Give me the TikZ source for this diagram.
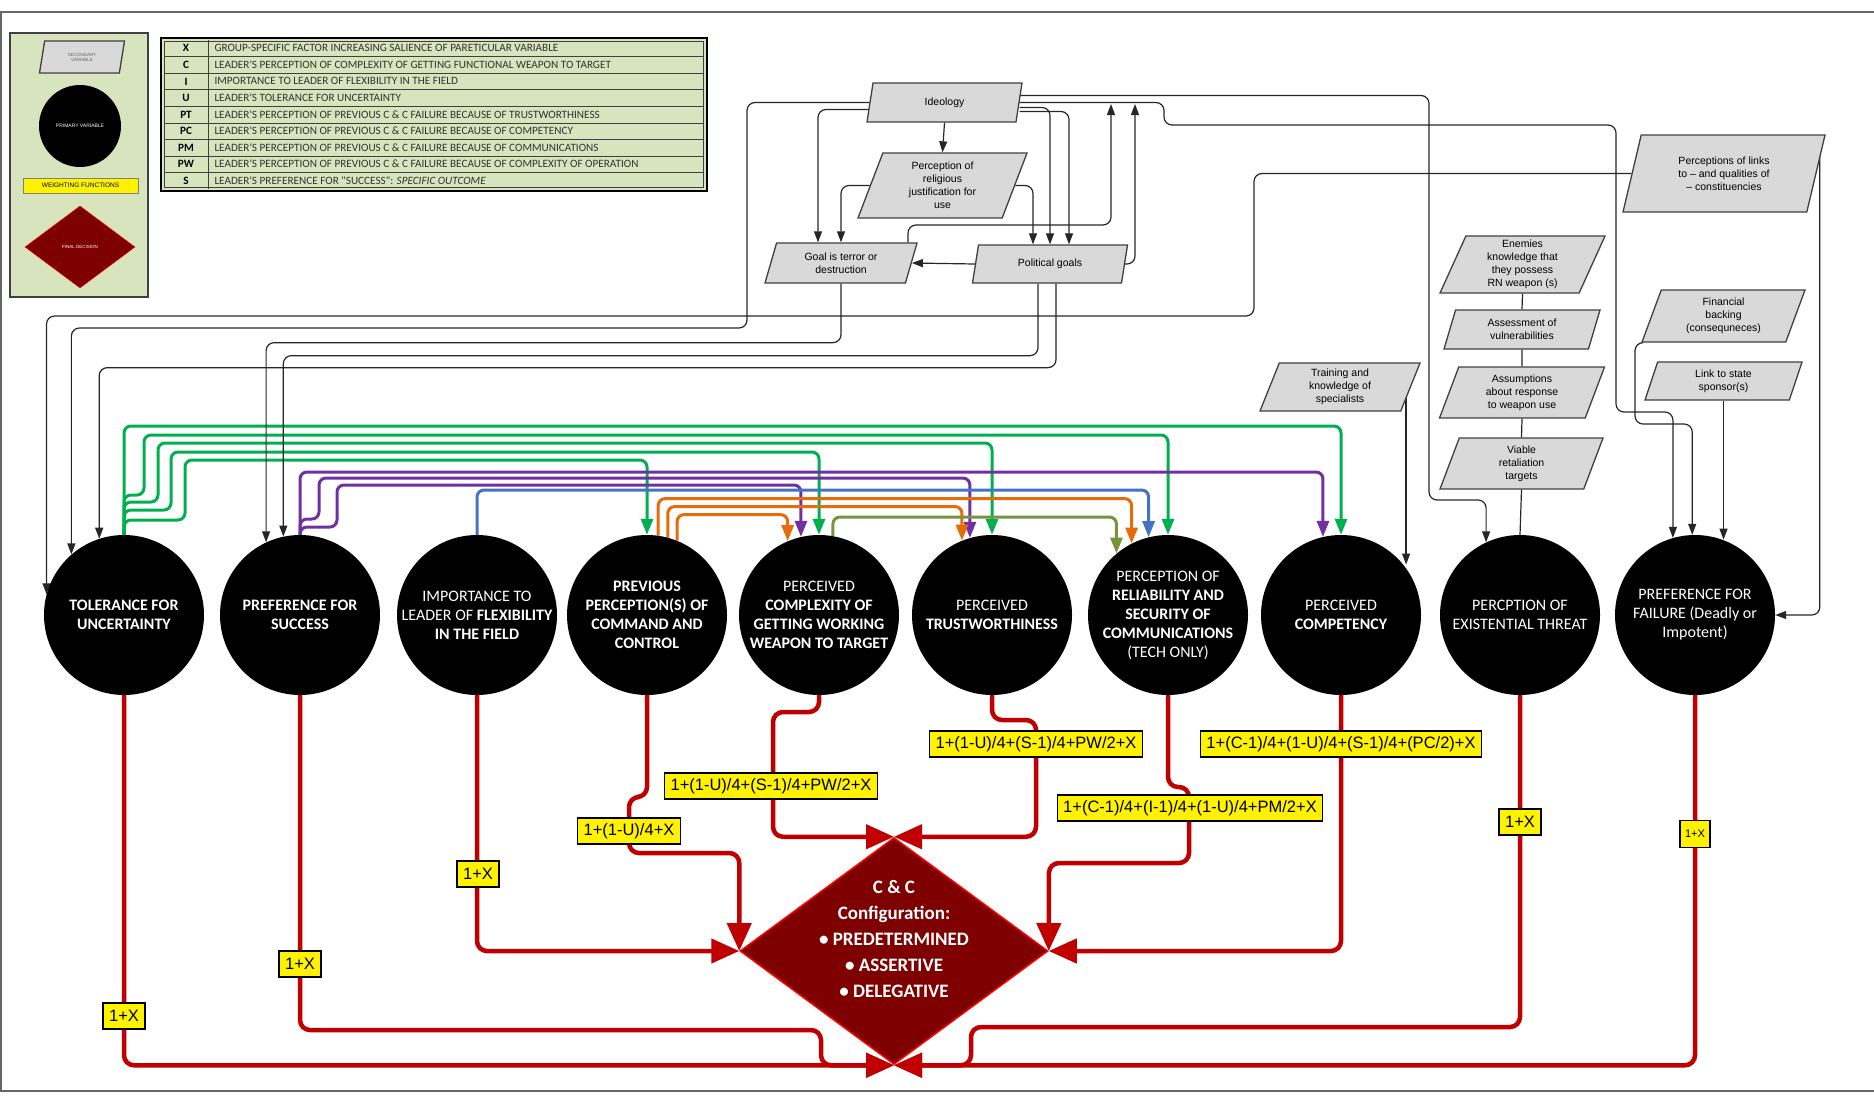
\documentclass[tikz,border=0pt]{standalone}
\usepackage{fontspec}
\setmainfont{Liberation Sans}
\newfontfamily\calfont{Carlito}
\usetikzlibrary{shapes.geometric,arrows.meta,backgrounds}
\definecolor{legendgreen}{HTML}{D7E4BD}
\definecolor{secgray}{HTML}{D9D9D9}
\definecolor{linegray}{HTML}{404040}
\definecolor{redline}{HTML}{C00000}
\definecolor{darkred}{HTML}{7F0000}
\definecolor{xlgreen}{HTML}{00B050}
\definecolor{xlpurple}{HTML}{7030A0}
\definecolor{xlblue}{HTML}{4472C4}
\definecolor{xlorange}{HTML}{E46C0A}
\definecolor{xlolive}{HTML}{77933C}
\newcommand{\circfont}{\calfont\bfseries\fontsize{16}{19}\selectfont}
\newcommand{\secfont}{\fontsize{10.5}{13}\selectfont}
\newcommand{\wffont}{\fontsize{16.5}{18}\selectfont}
\newcommand{\tabfont}{\calfont\fontsize{11.2}{13}\selectfont}

\begin{document}
\begin{tikzpicture}[x=1pt,y=-1pt,
  sec/.style={trapezium, trapezium left angle=63, trapezium right angle=117, trapezium stretches body,
    draw=linegray, line width=1.3pt, fill=secgray, align=center, font=\secfont, inner sep=1pt},
  prim/.style={circle, fill=black, minimum size=160pt, inner sep=0pt},
  ptext/.style={text=white, align=center, font=\circfont},
  wf/.style={draw=black, line width=1.3pt, fill=yellow, font=\wffont, minimum height=26pt, inner xsep=6pt, inner ysep=0pt},
  blk/.style={draw=black!85, line width=1.2pt, rounded corners=8pt},
  blkarr/.style={blk, -{Triangle[length=11pt,width=8pt]}},
  redarr/.style={draw=redline, line width=4.5pt, rounded corners=10pt, -{Triangle[length=28pt,width=24pt]}},
  col/.style={line width=3pt, rounded corners=7pt, -{Triangle[length=16pt,width=12pt]}}]
\useasboundingbox (0,0) rectangle (1874,1095);
\draw[black!60, line width=1.5pt] (1874,12) -- (1,12) -- (1,1091) -- (1874,1091);

\draw[linegray, line width=2.5pt, fill=legendgreen] (10,33) rectangle (148,297);
\node[sec, minimum width=85pt, minimum height=32pt, font=\fontsize{4.5}{5}\selectfont, text=black!60] (legsec) at (82,57) {SECONDARY\\VARIABLE};
\node[circle, fill=black, minimum size=82pt, inner sep=0pt, text=white, font=\fontsize{5}{6}\selectfont] (legprim) at (80,126) {PRIMARY VARIABLE};
\node[draw=black!50, fill=yellow, font=\fontsize{6.5}{7}\selectfont, minimum width=115pt, minimum height=15pt, inner sep=0pt] (legwf) at (80.5,185.5) {WEIGHTING FUNCTIONS};
\node[diamond, fill=darkred, draw=red, minimum width=110pt, minimum height=82pt, inner sep=0pt, text=white, font=\fontsize{4.5}{5}\selectfont] (legdec) at (80,247) {FINAL DECISION};

\fill[legendgreen] (161,38) rectangle (707,191);
\foreach \i in {1,...,8}
  \draw[linegray] (164,{40+\i*16.56}) -- (704,{40+\i*16.56});
\draw[linegray] (208,40) -- (208,189);
\draw[black, line width=2.5pt] (161,38) rectangle (707,191);
\draw[linegray, line width=0.8pt] (164.5,41.5) rectangle (703.5,187.5);
\foreach [count=\i] \k/\t in {
  X/GROUP-SPECIFIC FACTOR INCREASING SALIENCE OF PARETICULAR VARIABLE,
  C/LEADER'S PERCEPTION OF COMPLEXITY OF GETTING FUNCTIONAL WEAPON TO TARGET,
  I/IMPORTANCE TO LEADER OF FLEXIBILITY IN THE FIELD,
  U/LEADER'S TOLERANCE FOR UNCERTAINTY,
  PT/LEADER'S PERCEPTION OF PREVIOUS C \& C FAILURE BECAUSE OF TRUSTWORTHINESS,
  PC/LEADER'S PERCEPTION OF PREVIOUS C \& C FAILURE BECAUSE OF COMPETENCY,
  PM/LEADER'S PERCEPTION OF PREVIOUS C \& C FAILURE BECAUSE OF COMMUNICATIONS,
  PW/LEADER'S PERCEPTION OF PREVIOUS C \& C FAILURE BECAUSE OF COMPLEXITY OF OPERATION,
  S/{LEADER'S PREFERENCE FOR "SUCCESS": \textit{SPECIFIC OUTCOME}}}
{
  \node[font=\tabfont\bfseries] (key\i) at (186,{40+(\i-0.5)*16.56}) {\k};
  \node[anchor=west, font=\tabfont, text=black!80] (row\i) at (211,{40+(\i-0.5)*16.56}) {\t};
}

\node[sec, minimum width=155pt, minimum height=39pt] (ideo) at (944.5,102.5) {Ideology};
\node[sec, minimum width=169pt, minimum height=65pt] (relig) at (942.5,185.5) {Perception of\\religious\\justification for\\use};
\node[sec, minimum width=152pt, minimum height=40pt] (goal) at (841,263) {Goal is terror or\\destruction};
\node[sec, minimum width=155pt, minimum height=38pt] (polit) at (1050,264) {Political goals};
\node[sec, minimum width=202pt, minimum height=77pt] (links) at (1724,173.5) {Perceptions of links\\to \textendash{} and qualities of\\\textendash{} constituencies};
\node[sec, minimum width=165pt, minimum height=57pt] (enemy) at (1522.5,264.5) {Enemies\\knowledge that\\they possess\\RN weapon (s)};
\node[sec, minimum width=156pt, minimum height=39pt] (assess) at (1522,329.5) {Assessment of\\vulnerabilities};
\node[sec, minimum width=165pt, minimum height=51pt] (assume) at (1522,392.5) {Assumptions\\about response\\to weapon use};
\node[sec, minimum width=163pt, minimum height=51pt] (viable) at (1521.5,463.5) {Viable\\retaliation\\targets};
\node[sec, minimum width=160pt, minimum height=48pt] (train) at (1340,387) {Training and\\knowledge of\\specialists};
\node[sec, minimum width=163pt, minimum height=52pt] (finance) at (1723.5,316) {Financial\\backing\\(consequneces)};
\node[sec, minimum width=157pt, minimum height=38pt] (sponsor) at (1723.5,381) {Link to state\\sponsor(s)};

\node[prim, label={[ptext]center:{TOLERANCE FOR\\UNCERTAINTY}}] (tol) at (124,615) {};
\node[prim, label={[ptext]center:{PREFERENCE FOR\\SUCCESS}}] (suc) at (300,615) {};
\node[prim, label={[ptext]center:{\textmd{IMPORTANCE TO}\\\textmd{LEADER OF} FLEXIBILITY\\IN THE FIELD}}] (imp) at (477,615) {};
\node[prim, label={[ptext]center:{PREVIOUS\\PERCEPTION(S) OF\\COMMAND AND\\CONTROL}}] (prev) at (647,615) {};
\node[prim, label={[ptext]center:{\textmd{PERCEIVED}\\COMPLEXITY OF\\GETTING WORKING\\WEAPON TO TARGET}}] (cplx) at (819,615) {};
\node[prim, label={[ptext]center:{\textmd{PERCEIVED}\\TRUSTWORTHINESS}}] (trust) at (992,615) {};
\node[prim, label={[ptext]center:{\textmd{PERCEPTION OF}\\RELIABILITY AND\\SECURITY OF\\COMMUNICATIONS\\\textmd{(TECH ONLY)}}}] (rel) at (1168,615) {};
\node[prim, label={[ptext]center:{\textmd{PERCEIVED}\\COMPETENCY}}] (comp) at (1341,615) {};
\node[prim, label={[ptext]center:{\textmd{PERCPTION OF}\\\textmd{EXISTENTIAL THREAT}}}] (thr) at (1520,615) {};
\node[prim, label={[ptext]center:{\textmd{PREFERENCE FOR}\\\textmd{FAILURE (Deadly or}\\\textmd{Impotent)}}}] (fail) at (1695,615) {};

\node[diamond, fill=darkred, draw=red, line width=1.5pt, minimum width=308pt, minimum height=227pt, inner sep=0pt] (dia) at (894,951) {};
\node[text=white, align=center, font=\calfont\bfseries\fontsize{19}{26}\selectfont] (diatext) at (894,939) {C \& C\\Configuration:\\\textbullet{} PREDETERMINED\\\textbullet{} ASSERTIVE\\\textbullet{} DELEGATIVE};

\coordinate (joinA) at (1111,104);
\coordinate (joinB) at (1135,104);
\coordinate (tr0) at ([xshift=-5pt,yshift=-10pt]train.east);

\begin{scope}[on background layer]
\draw[redarr] (tol.south) |- (dia.south);
\draw[redarr] (suc.south) |- (821,1030) |- (dia.south);
\draw[redarr] (imp.south) |- (dia.west);
\draw[redarr] (prev.south) -- (647,797) -| (629,853) -| (dia.west);
\draw[redarr] (cplx.south) |- (773,712) |- (dia.north);
\draw[redarr] (trust.south) |- (1036,720) |- (dia.north);
\draw[redarr] (rel.south) |- (1189,787) |- (1049,863) -- (dia.east);
\draw[redarr] (comp.south) |- (dia.east);
\draw[redarr] (thr.south) |- (971,1027) |- (dia.south);
\draw[redarr] (fail.south) |- (dia.south);

\draw[col, xlgreen] (tol.north) -- (124,426) -| (comp.north);
\draw[col, xlgreen] (tol.north) -- (124,495) -| (144,435) -| (rel.north);
\draw[col, xlgreen] (tol.north) -- (124,502) -| (158,443) -| (trust.north);
\draw[col, xlgreen] (tol.north) -- (124,510) -| (171,452) -| (cplx.north);
\draw[col, xlgreen] (tol.north) -- (124,520) -| (185,460) -| (prev.north);
\draw[col, xlpurple] (suc.north) -- (300,472) -| (comp.103);
\draw[col, xlpurple] (suc.north) -- (300,519) -| (319,478) -| (trust.106);
\draw[col, xlpurple] (suc.north) -- (300,527) -| (337,485) -| (cplx.103);
\draw[col, xlblue] (imp.north) -- (477,490) -| (rel.104);
\draw[col, xlorange] (prev.82) -- ++(0,-37) -| (rel.117.5);
\draw[col, xlorange] (prev.75.5) -- ++(0,-31) -| (trust.112);
\draw[col, xlorange] (prev.68.7) -- ++(0,-26) -| (cplx.113.6);
\draw[col, xlolive] (cplx.80.6) -- ++(0,-19) -| (rel.130.5);

\draw[blkarr] (ideo.south) -- (relig.north);
\draw[blkarr] ([yshift=-7pt]ideo.west) -| ([xshift=-23pt]goal.north);
\draw[blkarr] (relig.west) -| (goal.north);
\draw[blkarr] (relig.east) -| ([xshift=-17pt]polit.north);
\draw[blkarr] ([yshift=-5pt]ideo.east) -| (polit.north);
\draw[blkarr] ([yshift=-9pt]ideo.east) -| ([xshift=19pt]polit.north);
\draw[blkarr] (polit.west) -- (goal.east);
\draw[blkarr] ([xshift=67pt]goal.north) |- (1111,225) -- (joinA);
\draw[blkarr] (polit.east) -| (joinB);
\draw[blkarr] (ideo.west) -| (747,328) -| (tol.131);
\draw[blkarr] (links.west) -| (1254,316) -| (tol.165);
\draw[blkarr] (goal.south) -- ++(0,59) -| (suc.115);
\draw[blkarr] ([xshift=-12pt]polit.south) -- ++(0,72) -| (suc.102);
\draw[blkarr] ([xshift=6pt]polit.south) -- ++(0,84) -| (tol.108);
\draw[blkarr] ([yshift=7pt]ideo.east) -| (1429,500) -| (thr.115);
\draw[blkarr] (ideo.east) -| (1164,125) -| (1616,412) -| (fail.106);
\draw[blkarr] (finance.bottom left corner) -| (1635,424) -| (fail.92);
\draw[blkarr] (sponsor.south) -- (sponsor.south |- fail.70);
\draw[blkarr] ([xshift=-6pt,yshift=-12pt]links.top right corner) |- (fail.east);
\draw[blkarr] (tr0) -- (tr0 |- comp.39);
\draw[blk] (enemy.south) -- (assess.north);
\draw[blk] (assess.south) -- (assume.north);
\draw[blk] (assume.south) -- (viable.north);
\draw[blk] (viable.south) -- (thr.north);
\end{scope}

\node[wf] (w1) at (124,1016) {1+X};
\node[wf] (w2) at (300,964) {1+X};
\node[wf] (w3) at (478,874) {1+X};
\node[wf] (w4) at (629,831) {1+(1-U)/4+X};
\node[wf] (w5) at (771,786) {1+(1-U)/4+(S-1)/4+PW/2+X};
\node[wf] (w6) at (1036,744) {1+(1-U)/4+(S-1)/4+PW/2+X};
\node[wf] (w7) at (1190,808) {1+(C-1)/4+(I-1)/4+(1-U)/4+PM/2+X};
\node[wf] (w8) at (1341,744) {1+(C-1)/4+(1-U)/4+(S-1)/4+(PC/2)+X};
\node[wf] (w9) at (1520,822) {1+X};
\node[wf, font=\fontsize{11}{12}\selectfont, inner xsep=5pt, minimum height=27pt] (w10) at (1695,834) {1+X};
\end{tikzpicture}
\end{document}
